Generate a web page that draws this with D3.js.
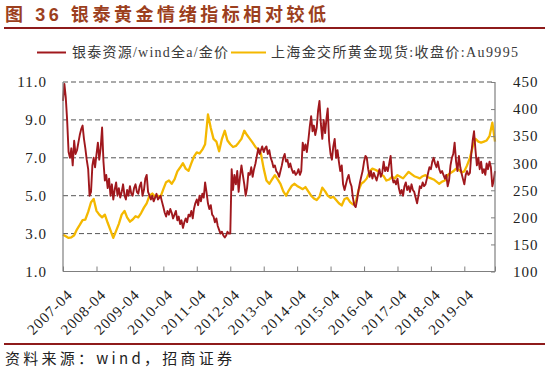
<!DOCTYPE html>
<html><head><meta charset="utf-8">
<script src="https://cdn.jsdelivr.net/npm/d3@7"></script>
<style>
html,body{margin:0;padding:0;background:#fff;}
svg{display:block;}
</style></head>
<body>
<svg id="chart" width="550" height="369"></svg>
<script>
// ---- Data ----
const titleText = "图 36 银泰黄金情绪指标相对较低";
const sourceText = "资料来源：wind，招商证券";
const seriesNames = ["银泰资源/wind全a/金价", "上海金交所黄金现货:收盘价:Au9995"];
const startMonth = new Date(2007, 3, 1);
const xTickLabels = ["2007-04","2008-04","2009-04","2010-04","2011-04","2012-04","2013-04","2014-04","2015-04","2016-04","2017-04","2018-04","2019-04"];
const leftTicks = [1, 3, 5, 7, 9, 11];
const rightTicks = [100, 150, 200, 250, 300, 350, 400, 450];
// red series (left axis), two readings per month from 2007-04
const ratioValues = [
10.0,10.9, 10.2,9.0, 7.3,7.0, 7.5,6.6, 7.9,7.2, 7.4,7.8, 8.2,8.5, 8.7,8.0, 7.5,6.9,
6.4,5.0, 5.2,6.6, 7.0,6.5, 7.2,7.8, 6.9,7.5, 8.6,6.8, 5.8,6.1, 5.4,5.9, 5.0,5.6, 4.8,5.3, 5.7,5.0, 5.4,4.9,
5.2,5.6, 5.0,4.8, 5.3,5.0, 5.5,5.1, 5.0,5.4, 5.6,5.2, 5.1,5.5, 5.7,5.0, 5.3,5.9, 6.1,5.2, 5.0,4.8, 5.0,4.7,
4.9,5.1, 4.8,4.9, 5.0,4.7, 4.4,4.1, 3.9,4.2, 4.0,4.3, 4.1,3.8, 4.0,4.2, 3.7,3.9, 3.5,3.7, 3.3,3.6, 3.8,3.6,
4.0,3.9, 4.2,3.8, 4.3,4.6, 4.8,4.5, 5.0,4.7, 5.1,4.9, 5.7,5.2, 4.6,4.3, 4.5,4.0, 3.9,3.6, 3.8,3.4, 3.2,3.0,
3.1,2.9, 2.8,2.9, 3.1,3.0, 3.0,6.4, 5.3,6.1, 5.6,6.3, 5.2,6.0, 6.6,6.1, 5.6,5.0, 5.4,6.2, 6.1,6.5, 6.0,6.4,
6.7,7.1, 7.5,7.2, 7.4,7.6, 7.3,7.5, 7.6,7.2, 7.4,7.0, 6.8,6.5, 6.6,6.3, 6.2,6.0, 6.3,6.6, 7.0,7.2, 6.8,6.9,
6.5,6.7, 6.4,6.2, 6.3,6.1, 6.2,6.4, 6.1,6.3, 7.8,7.4, 7.7,7.3, 7.9,8.6, 9.2,8.4, 8.7,8.2, 8.6,9.5, 10.0,8.8,
8.0,9.0, 8.3,9.1, 9.6,7.9, 7.2,6.9, 7.6,8.0, 7.0,7.4, 6.8,6.3, 6.6,5.6, 5.3,5.6, 5.9,6.1, 5.7,5.5, 4.9,4.5,
4.4,4.8, 5.3,5.7, 6.0,6.3, 6.8,7.1, 7.0,6.4, 6.0,6.3, 5.9,6.2, 6.0,5.8, 6.1,6.4, 6.0,6.2, 6.8,6.3, 6.5,6.3,
6.7,7.1, 6.0,5.7, 5.8,5.6, 5.9,5.4, 5.1,5.3, 5.0,5.5, 5.7,5.3, 5.5,5.2, 5.6,5.3, 5.2,4.9, 4.6,5.0, 5.5,5.4,
5.7,5.5, 5.6,5.9, 6.2,6.5, 6.4,6.8, 7.0,6.7, 6.5,6.8, 6.4,6.2, 6.3,6.1, 5.9,6.1, 5.5,5.8, 6.6,7.0, 7.2,7.8,
6.8,6.3, 7.1,6.5, 6.2,5.9, 5.6,6.1, 6.3,6.1, 6.2,7.2, 7.9,8.4, 7.4,6.6, 7.0,6.4, 6.8,6.2, 6.4,6.1, 6.7,6.4,
6.8,6.5, 5.5,5.8, 6.3
];
// gold price (right axis), one reading per month from 2007-04
const goldValues = [
168,165,162,163,167,178,186,195,196,
210,228,234,212,205,200,205,190,176,162,175,188,
205,212,200,192,196,202,200,208,218,226,240,244,
238,240,238,252,265,268,262,270,285,292,300,290,
286,300,312,320,318,325,335,390,365,345,340,322,
345,360,342,335,330,332,338,345,360,352,345,338,
330,325,318,290,268,262,270,278,270,262,248,240,
250,258,262,258,255,252,256,248,240,235,232,238,
255,248,240,236,238,232,226,222,234,236,228,224,
228,250,262,266,272,285,290,288,285,280,276,268,
270,275,272,278,275,272,278,284,280,276,274,272,
276,278,274,272,270,266,262,266,268,278,282,285,
290,288,283,285,296,310,330,345,340,338,340,342,
350,375,340
];

// ---- Layout ----
const svg = d3.select("#chart");
const plotL = 63, plotR = 495, plotT = 82, plotB = 271.5;
const serif = "'Liberation Serif','Times New Roman','Noto Sans CJK SC',serif";
const cjk = "'Liberation Serif','Noto Sans CJK SC',serif";
const redColor = "#A0181D", goldColor = "#F4B800", axisColor = "#7f7f7f";

const x = d3.scaleTime().domain([startMonth, new Date(2020, 2, 1)]).range([plotL, plotR]);
const yL = d3.scaleLinear().domain([1, 11]).range([plotB, plotT]);
const yR = d3.scaleLinear().domain([100, 450]).range([plotB, plotT]);

const ratioData = ratioValues.map((v, k) => ({
  date: d3.timeDay.offset(d3.timeMonth.offset(startMonth, Math.floor(k / 2)), (k % 2) * 15),
  v
}));
const goldData = goldValues.map((v, i) => ({ date: d3.timeMonth.offset(startMonth, i), v }));

// Title
svg.append("text").attr("x", 5).attr("y", 21)
  .attr("font-family", "'Liberation Sans','Noto Sans CJK SC',sans-serif")
  .attr("font-weight", "bold").attr("font-size", 18).attr("fill", "#9C3F1E")
  .attr("textLength", 321).attr("lengthAdjust", "spacing")
  .text(titleText);
svg.append("line").attr("x1", 4).attr("x2", 545).attr("y1", 28).attr("y2", 28)
  .attr("stroke", "#8E1B1B").attr("stroke-width", 2);

// Legend
const legend = [
  { name: seriesNames[0], color: redColor, lx1: 37, lx2: 66, tx: 72, tl: 156 },
  { name: seriesNames[1], color: goldColor, lx1: 231, lx2: 266, tx: 271, tl: 247 }
];
legend.forEach(d => {
  svg.append("line").attr("x1", d.lx1).attr("x2", d.lx2).attr("y1", 52.5).attr("y2", 52.5)
    .attr("stroke", d.color).attr("stroke-width", 2);
  svg.append("text").attr("x", d.tx).attr("y", 57).attr("font-family", cjk)
    .attr("font-size", 14).attr("fill", "#3a3a3a")
    .attr("textLength", d.tl).attr("lengthAdjust", "spacing").text(d.name);
});

// Gridlines (dashed) at left ticks above the bottom
svg.append("g").selectAll("line").data(leftTicks.filter(t => t > 1)).join("line")
  .attr("x1", plotL).attr("x2", plotR)
  .attr("y1", d => yL(d)).attr("y2", d => yL(d))
  .attr("stroke", "#555").attr("stroke-width", 1).attr("stroke-dasharray", "5,3");

// Series
const redLine = d3.line().x(d => x(d.date)).y(d => yL(d.v));
const goldLine = d3.line().x(d => x(d.date)).y(d => yR(d.v));
svg.append("path").datum(goldData).attr("d", goldLine).attr("fill", "none")
  .attr("stroke", goldColor).attr("stroke-width", 2.3).attr("stroke-linejoin", "round");
svg.append("path").datum(ratioData).attr("d", redLine).attr("fill", "none")
  .attr("stroke", redColor).attr("stroke-width", 1.9).attr("stroke-linejoin", "round");

// Axes
const leftAxis = d3.axisLeft(yL).tickValues(leftTicks).tickSize(0).tickPadding(16)
  .tickFormat(d3.format(".1f"));
const gL = svg.append("g").attr("transform", `translate(${plotL},0)`).call(leftAxis);
gL.select(".domain").remove();
gL.selectAll("text").attr("font-family", serif).attr("font-size", 15).attr("fill", "#222")
  .attr("letter-spacing", 1);

const rightAxis = d3.axisRight(yR).tickValues(rightTicks).tickSize(-4).tickPadding(18);
const gR = svg.append("g").attr("transform", `translate(${plotR},0)`).call(rightAxis);
gR.select(".domain").remove();
gR.selectAll("line").attr("stroke", axisColor);
gR.selectAll("text").attr("font-family", serif).attr("font-size", 15).attr("fill", "#222")
  .attr("letter-spacing", 1);

const tickDates = xTickLabels.map(s => d3.timeParse("%Y-%m")(s));
const bottomAxis = d3.axisBottom(x).tickValues(tickDates.concat([new Date(2020, 2, 1)])).tickSize(-5)
  .tickFormat((d, i) => xTickLabels[i] || "");
const gB = svg.append("g").attr("transform", `translate(0,${plotB})`).call(bottomAxis);
gB.select(".domain").remove();
gB.selectAll("line").attr("stroke", axisColor);
gB.selectAll("text")
  .attr("font-family", serif).attr("font-size", 15).attr("fill", "#222").attr("letter-spacing", 1)
  .attr("text-anchor", "end").attr("dy", 0).attr("y", 0)
  .attr("transform", "translate(10,24) rotate(-45)");

// axis frame lines
svg.append("line").attr("x1", plotL).attr("x2", plotL).attr("y1", plotT).attr("y2", plotB).attr("stroke", axisColor).attr("stroke-width", 1.2);
svg.append("line").attr("x1", plotR).attr("x2", plotR).attr("y1", plotT).attr("y2", plotB).attr("stroke", axisColor).attr("stroke-width", 1.2);
svg.append("line").attr("x1", plotL).attr("x2", plotR).attr("y1", plotB).attr("y2", plotB).attr("stroke", axisColor).attr("stroke-width", 1.2);

// Source
svg.append("line").attr("x1", 4).attr("x2", 545).attr("y1", 344).attr("y2", 344)
  .attr("stroke", "#8E1B1B").attr("stroke-width", 2);
svg.append("text").attr("x", 5).attr("y", 364)
  .attr("font-family", "'Noto Sans CJK SC','Liberation Sans',sans-serif")
  .attr("font-size", 15).attr("fill", "#222")
  .attr("textLength", 227).attr("lengthAdjust", "spacing").text(sourceText);
</script>
</body></html>
